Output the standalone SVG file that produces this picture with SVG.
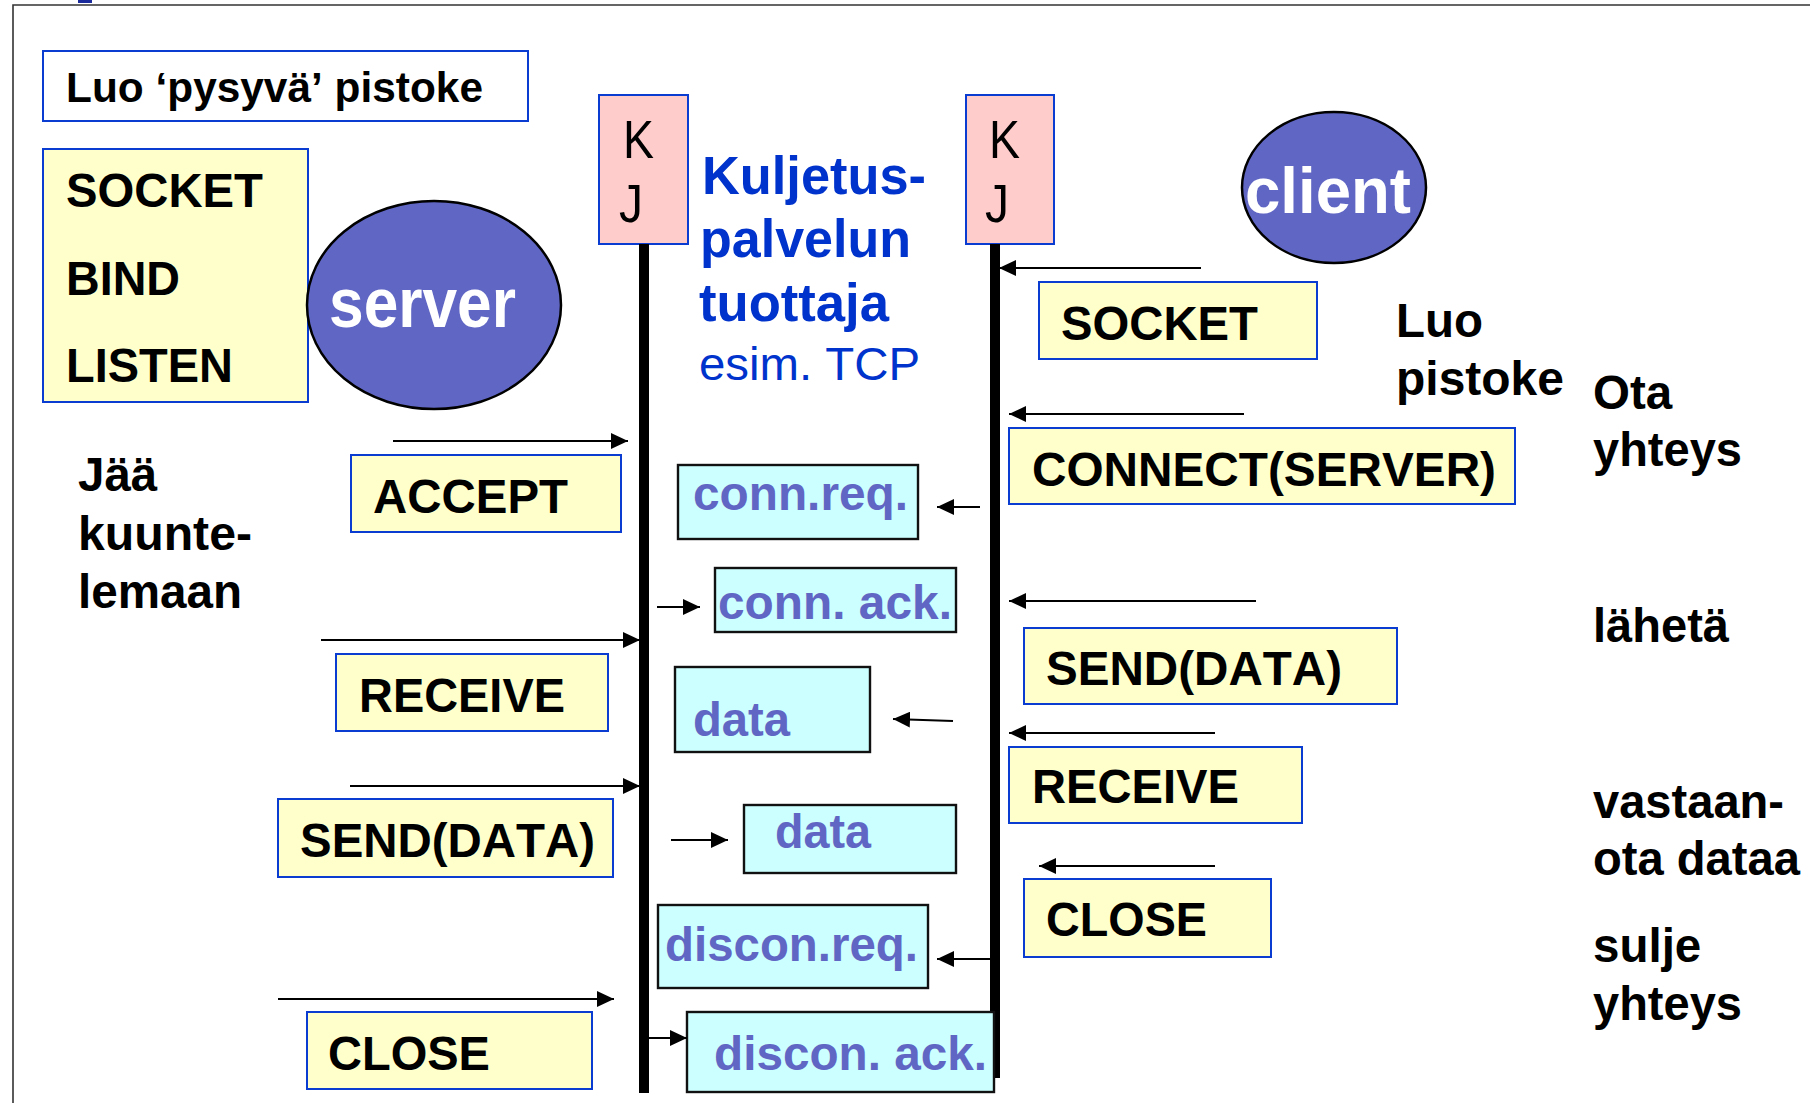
<svg xmlns="http://www.w3.org/2000/svg" width="1810" height="1103" viewBox="0 0 1810 1103">
<style>
text{font-kerning:none}
.bg{fill:#ffffff}
.frame{stroke:#333;stroke-width:1.6;fill:none}
.by{fill:#ffffcc;stroke:#0a3cd2;stroke-width:2}
.bw{fill:#ffffff;stroke:#0a3cd2;stroke-width:2}
.bc{fill:#ccffff;stroke:#111;stroke-width:2.4}
.kj{fill:#ffcccc;stroke:#0a3cd2;stroke-width:2}
.ell{fill:#6066c4;stroke:#000;stroke-width:2.5}
.life{fill:#000}
.t{font-family:"Liberation Sans",Arial,sans-serif;font-weight:bold;font-size:47.5px;fill:#000}
.tc{font-family:"Liberation Sans",Arial,sans-serif;font-weight:bold;font-size:47.5px;fill:#6066c4}
.tw{font-family:"Liberation Sans",Arial,sans-serif;font-weight:bold;fill:#ffffff}
.tk{font-family:"Liberation Sans",Arial,sans-serif;font-size:54px;fill:#000}
.tb{font-family:"Liberation Sans",Arial,sans-serif;font-weight:bold;font-size:53px;fill:#0033cc}
.tbr{font-family:"Liberation Sans",Arial,sans-serif;font-size:47px;fill:#0033cc}
.conn line{stroke:#000;stroke-width:2;marker-end:url(#ah)}
</style>
<defs>
<marker id="ah" markerUnits="userSpaceOnUse" markerWidth="17" markerHeight="16" refX="17" refY="8" orient="auto">
<path d="M0,0 L17,8 L0,16 z" fill="#000"/>
</marker>
</defs>
<rect class="bg" x="0" y="0" width="1810" height="1103"/>
<path class="frame" d="M13,1103 V5 H1810"/>
<rect x="78" y="0" width="14" height="3" fill="#1a2a9a"/>

<g id="luo-box">
<rect class="bw" x="43" y="51" width="485" height="70"/>
<text class="t" x="66" y="102" style="font-size:42.5px" textLength="417" lengthAdjust="spacingAndGlyphs">Luo ‘pysyvä’ pistoke</text>
</g>

<g id="server-calls">
<rect class="by" x="43" y="149" width="265" height="253"/>
<text class="t" x="66" y="207" textLength="197" lengthAdjust="spacingAndGlyphs">SOCKET</text>
<text class="t" x="66" y="295" textLength="114" lengthAdjust="spacingAndGlyphs">BIND</text>
<text class="t" x="66" y="382" textLength="167" lengthAdjust="spacingAndGlyphs">LISTEN</text>
</g>

<g id="server">
<ellipse class="ell" cx="434" cy="305" rx="127" ry="104"/>
<text class="tw" x="329" y="327" font-size="70" textLength="187" lengthAdjust="spacingAndGlyphs">server</text>
</g>

<g id="kj-left">
<rect class="kj" x="599" y="95" width="89" height="149"/>
<text class="tk" x="623" y="158" textLength="31" lengthAdjust="spacingAndGlyphs">K</text>
<text class="tk" x="619" y="222" textLength="24" lengthAdjust="spacingAndGlyphs">J</text>
<rect class="life" x="639" y="244" width="10" height="849"/>
</g>

<g id="provider">
<text class="tb" x="702" y="194" textLength="224" lengthAdjust="spacingAndGlyphs">Kuljetus-</text>
<text class="tb" x="700" y="257" textLength="211" lengthAdjust="spacingAndGlyphs">palvelun</text>
<text class="tb" x="699" y="321" textLength="190" lengthAdjust="spacingAndGlyphs">tuottaja</text>
<text class="tbr" x="699" y="380" textLength="221" lengthAdjust="spacingAndGlyphs">esim. TCP</text>
</g>

<g id="kj-right">
<rect class="kj" x="966" y="95" width="88" height="149"/>
<text class="tk" x="989" y="158" textLength="31" lengthAdjust="spacingAndGlyphs">K</text>
<text class="tk" x="985" y="222" textLength="24" lengthAdjust="spacingAndGlyphs">J</text>
<rect class="life" x="990" y="244" width="10" height="834"/>
</g>

<g id="client">
<ellipse class="ell" cx="1334" cy="187.5" rx="92" ry="75.5"/>
<text class="tw" x="1245" y="213" font-size="65" textLength="166" lengthAdjust="spacingAndGlyphs">client</text>
</g>

<g id="client-socket">
<rect class="by" x="1039" y="282" width="278" height="77"/>
<text class="t" x="1061" y="340" textLength="197" lengthAdjust="spacingAndGlyphs">SOCKET</text>
</g>
<g id="client-connect">
<rect class="by" x="1009" y="428" width="506" height="76"/>
<text class="t" x="1032" y="486" textLength="464" lengthAdjust="spacingAndGlyphs">CONNECT(SERVER)</text>
</g>
<g id="client-send">
<rect class="by" x="1024" y="628" width="373" height="76"/>
<text class="t" x="1046" y="685" textLength="296" lengthAdjust="spacingAndGlyphs">SEND(DATA)</text>
</g>
<g id="client-receive">
<rect class="by" x="1009" y="747" width="293" height="76"/>
<text class="t" x="1032" y="803" textLength="207" lengthAdjust="spacingAndGlyphs">RECEIVE</text>
</g>
<g id="client-close">
<rect class="by" x="1024" y="879" width="247" height="78"/>
<text class="t" x="1046" y="936" textLength="161" lengthAdjust="spacingAndGlyphs">CLOSE</text>
</g>

<g id="server-accept">
<rect class="by" x="351" y="455" width="270" height="77"/>
<text class="t" x="373" y="513" textLength="195" lengthAdjust="spacingAndGlyphs">ACCEPT</text>
</g>
<g id="server-receive">
<rect class="by" x="336" y="654" width="272" height="77"/>
<text class="t" x="359" y="712" textLength="206" lengthAdjust="spacingAndGlyphs">RECEIVE</text>
</g>
<g id="server-send">
<rect class="by" x="278" y="799" width="335" height="78"/>
<text class="t" x="300" y="857" textLength="295" lengthAdjust="spacingAndGlyphs">SEND(DATA)</text>
</g>
<g id="server-close">
<rect class="by" x="307" y="1012" width="285" height="77"/>
<text class="t" x="328" y="1070" textLength="162" lengthAdjust="spacingAndGlyphs">CLOSE</text>
</g>

<g id="pdu-conn-req">
<rect class="bc" x="678" y="465" width="240" height="74"/>
<text class="tc" x="693" y="510" textLength="215" lengthAdjust="spacingAndGlyphs">conn.req.</text>
</g>
<g id="pdu-conn-ack">
<rect class="bc" x="715" y="568" width="241" height="64"/>
<text class="tc" x="718" y="619" textLength="234" lengthAdjust="spacingAndGlyphs">conn. ack.</text>
</g>
<g id="pdu-data-1">
<rect class="bc" x="675" y="667" width="195" height="85"/>
<text class="tc" x="693" y="736" textLength="97" lengthAdjust="spacingAndGlyphs">data</text>
</g>
<g id="pdu-data-2">
<rect class="bc" x="744" y="805" width="212" height="68"/>
<text class="tc" x="775" y="848" textLength="96" lengthAdjust="spacingAndGlyphs">data</text>
</g>
<g id="pdu-discon-req">
<rect class="bc" x="658" y="905" width="270" height="83"/>
<text class="tc" x="665" y="961" textLength="253" lengthAdjust="spacingAndGlyphs">discon.req.</text>
</g>
<g id="pdu-discon-ack">
<rect class="bc" x="687" y="1012" width="307" height="80"/>
<text class="tc" x="714" y="1070" textLength="273" lengthAdjust="spacingAndGlyphs">discon. ack.</text>
</g>

<g id="notes-left">
<text class="t" x="78" y="491">Jää</text>
<text class="t" x="78" y="550" textLength="174" lengthAdjust="spacingAndGlyphs">kuunte-</text>
<text class="t" x="78" y="608" textLength="164" lengthAdjust="spacingAndGlyphs">lemaan</text>
</g>
<g id="notes-right">
<text class="t" x="1396" y="337">Luo</text>
<text class="t" x="1396" y="395" textLength="168" lengthAdjust="spacingAndGlyphs">pistoke</text>
<text class="t" x="1593" y="409">Ota</text>
<text class="t" x="1593" y="466" textLength="149" lengthAdjust="spacingAndGlyphs">yhteys</text>
<text class="t" x="1593" y="642" textLength="136" lengthAdjust="spacingAndGlyphs">lähetä</text>
<text class="t" x="1593" y="818" textLength="191" lengthAdjust="spacingAndGlyphs">vastaan-</text>
<text class="t" x="1593" y="875" textLength="207" lengthAdjust="spacingAndGlyphs">ota dataa</text>
<text class="t" x="1593" y="962">sulje</text>
<text class="t" x="1593" y="1020" textLength="149" lengthAdjust="spacingAndGlyphs">yhteys</text>
</g>

<g id="connectors" class="conn">
<line x1="393" y1="441" x2="628" y2="441"/>
<line x1="321" y1="640" x2="640" y2="640"/>
<line x1="350" y1="786" x2="640" y2="786"/>
<line x1="278" y1="999" x2="614" y2="999"/>
<line x1="657" y1="607" x2="700" y2="607"/>
<line x1="671" y1="840" x2="728" y2="840"/>
<line x1="649" y1="1038" x2="687" y2="1038"/>
<line x1="1201" y1="268" x2="999" y2="268"/>
<line x1="1244" y1="414" x2="1009" y2="414"/>
<line x1="980" y1="507" x2="937" y2="507"/>
<line x1="1256" y1="601" x2="1009" y2="601"/>
<line x1="953" y1="721" x2="893" y2="719"/>
<line x1="1215" y1="733" x2="1009" y2="733"/>
<line x1="1215" y1="866" x2="1039" y2="866"/>
<line x1="990" y1="959" x2="937" y2="959"/>
</g>
</svg>
